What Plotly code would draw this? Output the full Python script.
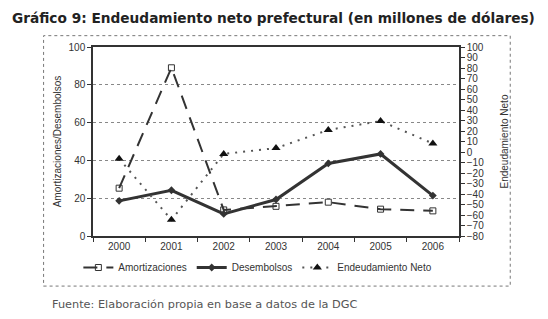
import plotly.graph_objects as go

years = ["2000", "2001", "2002", "2003", "2004", "2005", "2006"]
amortizaciones = [25.3, 89.0, 13.8, 15.7, 17.9, 14.2, 13.3]
desembolsos = [18.6, 24.2, 11.7, 19.3, 38.4, 43.4, 21.4]
endeudamiento_neto = [-6.5, -64.6, -1.8, 3.7, 21.0, 29.5, 8.1]

left_ticks = [0, 20, 40, 60, 80, 100]
right_ticks = list(range(-80, 101, 10))

fig = go.Figure()
fig.add_trace(go.Scatter(
    x=years, y=amortizaciones, name="Amortizaciones", mode="lines+markers",
    line=dict(color="#333333", width=2, dash="14px,9px"),
    marker=dict(symbol="square-open", size=6, color="#333333", line=dict(width=1)),
))
fig.add_trace(go.Scatter(
    x=years, y=desembolsos, name="Desembolsos", mode="lines+markers",
    line=dict(color="#333333", width=3),
    marker=dict(symbol="diamond", size=6, color="#333333"),
))
fig.add_trace(go.Scatter(
    x=years, y=endeudamiento_neto, name="Endeudamiento Neto", mode="lines+markers",
    yaxis="y2",
    line=dict(color="#555555", width=2, dash="2px,6px"),
    marker=dict(symbol="triangle-up", size=8, color="#111111"),
))

axis_font = dict(family="Liberation Sans, Arial, sans-serif", size=10, color="#333333")

fig.update_layout(
    width=540, height=311,
    margin=dict(l=85, r=89, t=39, b=83, autoexpand=False),
    paper_bgcolor="white", plot_bgcolor="white",
    showlegend=True,
    legend=dict(orientation="h", x=-0.04, xanchor="left", y=-0.09, yanchor="top",
                font=dict(family="Liberation Sans, Arial, sans-serif", size=10, color="#333333"),
                tracegroupgap=0),
    xaxis=dict(
        type="category", range=[-0.5, 6.5], tickson="boundaries",
        ticks="outside", ticklen=4, tickcolor="#333333",
        showline=True, linecolor="#333333", linewidth=1.5, mirror=True,
        showgrid=False, tickfont=axis_font,
    ),
    yaxis=dict(
        range=[0, 100], tickvals=left_ticks, ticks="outside", ticklen=4,
        tickcolor="#333333", showline=True, linecolor="#333333", linewidth=1.5,
        showgrid=True, gridcolor="#888888", griddash="dot", gridwidth=1,
        zeroline=False, tickfont=axis_font,
        title=dict(text="Amortizaciones/Desembolsos", font=axis_font, standoff=5),
    ),
    yaxis2=dict(
        range=[-80, 100], tickvals=right_ticks, overlaying="y", side="right",
        ticks="outside", ticklen=4, tickcolor="#333333",
        showline=True, linecolor="#333333", linewidth=1.5,
        showgrid=False, zeroline=False, tickfont=axis_font,
        title=dict(text="Endeudamiento Neto", font=axis_font, standoff=18),
    ),
    shapes=[dict(type="rect", xref="paper", yref="paper",
                 x0=-0.135, x1=1.14, y0=-0.265, y1=1.06,
                 line=dict(color="#777777", width=1, dash="dot"), layer="below")],
    annotations=[
        dict(text="<b>Gráfico 9: Endeudamiento neto prefectural (en millones de dólares)</b>",
             xref="paper", yref="paper", x=-0.228, y=1.205, xanchor="left", yanchor="top",
             showarrow=False, font=dict(family="DejaVu Sans, sans-serif", size=13.7, color="#222222")),
        dict(text="Fuente: Elaboración propia en base a datos de la DGC",
             xref="paper", yref="paper", x=-0.118, y=-0.36, xanchor="left", yanchor="middle",
             showarrow=False, font=dict(family="DejaVu Sans, sans-serif", size=11.3, color="#555555")),
    ],
)

fig.write_html("out.html")
